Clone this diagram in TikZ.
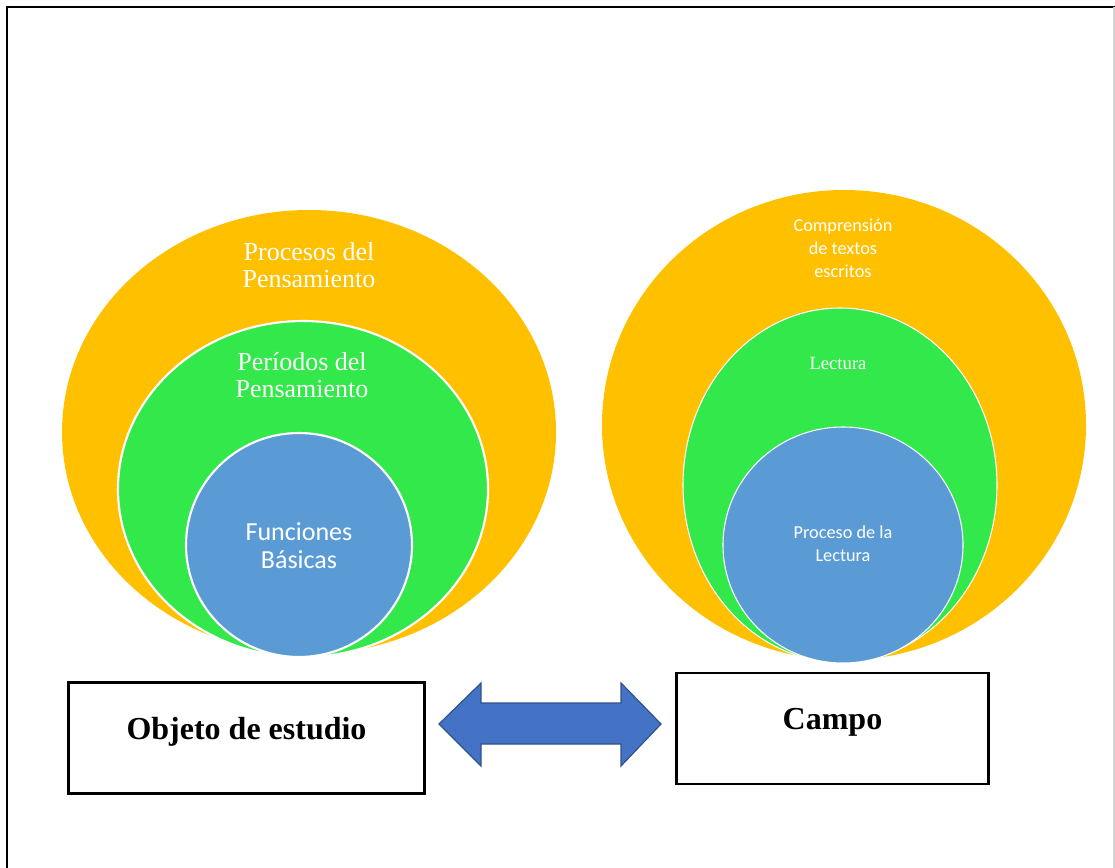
\documentclass[tikz,border=0pt]{standalone}
\usepackage{fontspec}
\setmainfont{Liberation Serif}
\newfontfamily\calib{Carlito}
\usepackage{tikz}
\usetikzlibrary{positioning}
\definecolor{ringyellow}{HTML}{FFC000}
\definecolor{ringgreen}{HTML}{33E84A}
\definecolor{ringblue}{HTML}{5B9BD5}
\definecolor{arrowblue}{HTML}{4472C4}
\definecolor{arrowedge}{HTML}{2F528F}
\tikzset{
outer ring/.style={fill=ringyellow},
mid ring/.style={fill=ringgreen, draw=white, line width=1.6pt},
inner ring/.style={fill=ringblue, draw=white, line width=1.6pt},
thin ring/.style={line width=0.8pt},
serif label/.style={text=white, align=center, inner sep=0pt, font=\fontsize{19.5}{20.5}\selectfont},
sans label/.style={text=white, align=center, inner sep=0pt, font=\calib\fontsize{19.5}{21}\selectfont},
small label/.style={text=white, align=center, inner sep=0pt, font=\calib\fontsize{13.7}{17.2}\selectfont},
box/.style={draw=black, line width=1.8pt, fill=white, minimum width=267pt, minimum height=83pt, inner sep=0pt},
box text/.style={font=\bfseries\fontsize{24}{26}\selectfont},
arrowfill/.style={fill=arrowblue, draw=arrowedge, line width=0.9pt, line join=miter}
}
\begin{document}
\begin{tikzpicture}[x=0.75pt, y=-0.75pt]
\useasboundingbox (0,0) rectangle (1115,868);
% frame
\draw[line width=1.8pt] (7,868) -- (7,7) -- (1115,7);
\draw[gray!35, line width=1pt] (1114,7) -- (1114,868);
% left rings
\fill[outer ring] (309,432) ellipse [x radius=247, y radius=222];
\draw[mid ring] (303,489) ellipse [x radius=185, y radius=168];
\draw[inner ring] (299,545) ellipse [x radius=113, y radius=112];
\node[serif label] (procesos) at (309,265) {Procesos del\\Pensamiento};
\node[serif label] (periodos) at (302,375) {Períodos del\\Pensamiento};
\node[sans label] (funciones) at (299,546) {Funciones\\Básicas};
% right rings
\fill[outer ring] (844,425) ellipse [x radius=242, y radius=235];
\draw[mid ring, thin ring] (840,485) ellipse [x radius=157, y radius=177];
\draw[inner ring, thin ring] (843,545) ellipse [x radius=120, y radius=118];
\node[small label] (comprension) at (843,248) {Comprensión\\de textos\\escritos};
\node[serif label, font=\fontsize{14}{16}\selectfont] (lectura) at (838,363) {Lectura};
\node[small label] (proceso) at (843,544) {Proceso de la\\Lectura};
% boxes
\node[box, label={[box text, yshift=4.5pt]center:Objeto de estudio}] (objeto) at (246.5,738) {};
\node[box, minimum width=234pt, label={[box text, yshift=4.5pt]center:Campo}] (campo) at (832.5,728.5) {};
% double arrow
\draw[arrowfill] (439,724) -- (481,683) -- (481,703) -- (621,703) -- (621,683) -- (661,724)
  -- (621,766) -- (621,744) -- (481,744) -- (481,766) -- cycle;
\end{tikzpicture}
\end{document}
